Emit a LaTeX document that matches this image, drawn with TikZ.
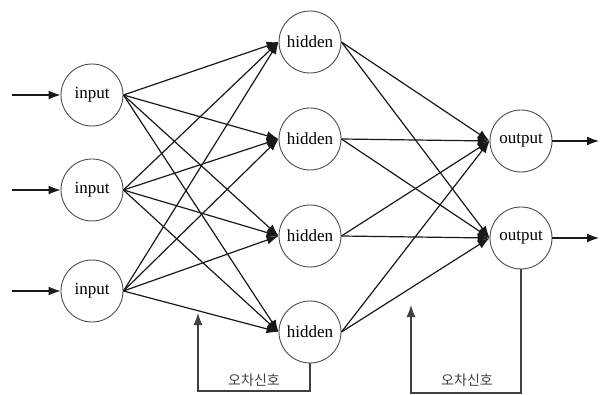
\documentclass[tikz,border=0pt]{standalone}
\usepackage{fontspec}
\setmainfont{Liberation Serif}
\newfontfamily\krfont{Noto Sans CJK KR}
\usetikzlibrary{arrows.meta}
\begin{document}
\begin{tikzpicture}[x=1pt,y=-1pt,
  neuron/.style={circle,draw=black!70,line width=0.9pt,minimum size=62pt,inner sep=0pt,
    font=\fontsize{17}{17}\selectfont},
  conn/.style={draw=black!90,line width=1.2pt,-{Latex[length=12pt,width=9pt]}},
  fb/.style={draw=black!75,line width=1.1pt},
  lbl/.style={font=\krfont\fontsize{14}{14}\selectfont,text=black!75,inner sep=0pt}]
\useasboundingbox (0,0) rectangle (602,395);
% nodes
\node[neuron] (i1) at (92,95) {input};
\node[neuron] (i2) at (92,190) {input};
\node[neuron] (i3) at (92,291) {input};
\node[neuron] (h1) at (310,42) {hidden};
\node[neuron] (h2) at (310,139) {hidden};
\node[neuron] (h3) at (310,236) {hidden};
\node[neuron] (h4) at (310,332) {hidden};
\node[neuron] (o1) at (521,141) {output};
\node[neuron] (o2) at (521,238) {output};
% free ends
\coordinate (a1) at (12,95);
\coordinate (a2) at (12,190);
\coordinate (a3) at (12,291);
\coordinate (b1) at (599,141);
\coordinate (b2) at (599,238);
% input arrows
\foreach \k in {1,2,3} \draw[conn] (a\k) -- (i\k.west);
% input -> hidden
\foreach \i in {1,2,3} \foreach \h in {1,2,3,4} \draw[conn] (i\i.east) -- (h\h.west);
% hidden -> output
\foreach \h in {1,2,3,4} \foreach \o in {1,2} \draw[conn] (h\h.east) -- (o\o.west);
% output arrows
\foreach \k in {1,2} \draw[conn] (o\k.east) -- (b\k);
% feedback loops
\coordinate (l1) at (310,391);
\coordinate (l2) at (198,391);
\coordinate (l3) at (198,313);
\draw[fb,-{Latex[length=12pt,width=9pt]}] (h4.south) -- (l1) -- (l2) -- (l3);
\coordinate (r1) at (521,393);
\coordinate (r2) at (411,393);
\coordinate (r3) at (411,305);
\draw[fb,-{Latex[length=12pt,width=9pt]}] (o2.south) -- (r1) -- (r2) -- (r3);
\node[lbl] (t1) at (254,380) {오차신호};
\node[lbl] (t2) at (467,380) {오차신호};
\end{tikzpicture}
\end{document}
